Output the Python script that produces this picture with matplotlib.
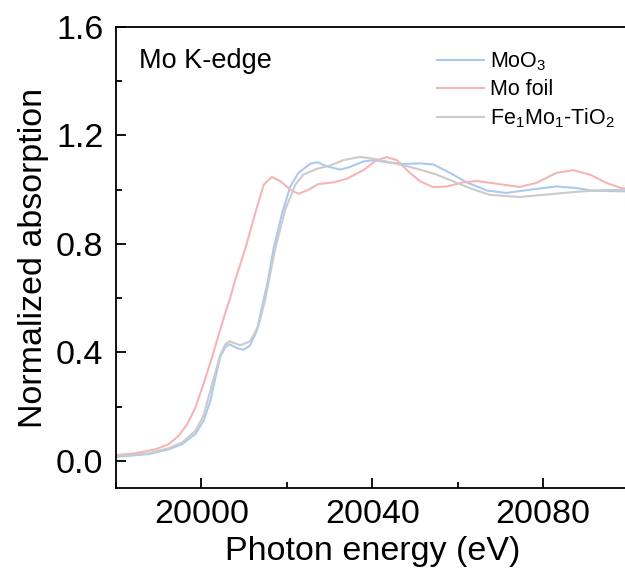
import matplotlib
matplotlib.use("Agg")
import matplotlib.pyplot as plt
from matplotlib.ticker import MultipleLocator, FormatStrFormatter

plt.rcParams['font.family'] = ['Liberation Sans', 'DejaVu Sans']
plt.rcParams['mathtext.fontset'] = 'custom'
plt.rcParams['mathtext.rm'] = 'Liberation Sans'
plt.rcParams['mathtext.it'] = 'Liberation Sans'

# ---- data ----
moo3_x = [19980, 19987.7, 19992.4, 19995.5, 19998.6, 20000.5, 20002.1, 20003.3, 20004.4, 20005.6,
          20006.6, 20008.3, 20009.9, 20011.4, 20013, 20014.2, 20015.6, 20016.9, 20018.9, 20020.8,
          20022.7, 20025.5, 20027.2, 20029.4, 20032.5, 20034.8, 20037.9, 20040.3, 20043.4, 20047.3,
          20051.2, 20054.3, 20058.2, 20062.1, 20066.8, 20071.4, 20076.9, 20083.1, 20087.8, 20091.7,
          20098.7, 20100]
moo3_y = [0.015, 0.025, 0.043, 0.062, 0.099, 0.148, 0.222, 0.309, 0.383, 0.42,
          0.43, 0.416, 0.41, 0.426, 0.481, 0.568, 0.667, 0.784, 0.914, 1.012,
          1.062, 1.096, 1.101, 1.086, 1.074, 1.084, 1.104, 1.109, 1.101, 1.095,
          1.097, 1.093, 1.062, 1.027, 0.997, 0.988, 1.0, 1.012, 1.006, 0.996,
          0.994, 0.994]

foil_x = [19980, 19984.6, 19989.3, 19992.4, 19994.7, 19996.7, 19998.6, 20000.5, 20002.5, 20004.8,
          20006.8, 20007.9, 20010.3, 20012.6, 20014.6, 20016.5, 20018.5, 20020.8, 20022.7, 20025.1,
          20027.4, 20030.9, 20034, 20037.9, 20041, 20043.4, 20045.7, 20048.8, 20051.2, 20054.3,
          20057.4, 20061.3, 20064.4, 20069.1, 20074.5, 20078.4, 20083.1, 20087, 20090.9, 20094.8,
          20098.3, 20100]
foil_y = [0.021, 0.028, 0.043, 0.062, 0.093, 0.136, 0.197, 0.284, 0.383, 0.506,
          0.605, 0.667, 0.784, 0.914, 1.019, 1.047, 1.031, 1.0, 0.985, 1.0,
          1.021, 1.027, 1.04, 1.072, 1.109, 1.12, 1.109, 1.062, 1.031, 1.009,
          1.012, 1.027, 1.032, 1.022, 1.01, 1.025, 1.062, 1.072, 1.056, 1.025,
          1.006, 1.003]

fe_x = [19980, 19987.7, 19992.4, 19995.5, 19998.6, 20000.5, 20002.3, 20004.4, 20005.6, 20006.6,
        20009.1, 20011.4, 20013.4, 20014.9, 20017.3, 20019.6, 20022, 20023.9, 20027, 20030.1,
        20033.2, 20037.1, 20040.3, 20044.2, 20048.8, 20051.2, 20055, 20058.9, 20062.8, 20067.5,
        20074.5, 20080, 20086.2, 20091.7, 20098.7, 20100]
fe_y = [0.018, 0.028, 0.047, 0.068, 0.111, 0.167, 0.272, 0.39, 0.43, 0.441,
        0.426, 0.441, 0.5, 0.593, 0.784, 0.926, 1.019, 1.056, 1.077, 1.089,
        1.109, 1.121, 1.114, 1.101, 1.084, 1.074, 1.056, 1.031, 1.006, 0.981,
        0.973, 0.981, 0.99, 0.997, 1.0, 1.0]

labels = ['MoO$_3$', 'Mo foil', 'Fe$_1$Mo$_1$-TiO$_2$']
colors = ['#abc9f1', '#f5b5b5', '#cbcbcb']

fig = plt.figure(figsize=(6.25, 5.72), dpi=100)
ax = fig.add_axes([0.1856, 0.1469, 0.8202, 0.8059])

ax.plot(moo3_x, moo3_y, color=colors[0], lw=1.5, label=labels[0])
ax.plot(foil_x, foil_y, color=colors[1], lw=1.5, label=labels[1])
ax.plot(fe_x, fe_y, color=colors[2], lw=1.5, label=labels[2])

ax.set_xlim(19980, 20100)
ax.set_ylim(-0.1, 1.6)
ax.xaxis.set_major_locator(MultipleLocator(40))
ax.xaxis.set_minor_locator(MultipleLocator(20))
ax.yaxis.set_major_locator(MultipleLocator(0.4))
ax.yaxis.set_minor_locator(MultipleLocator(0.2))
ax.yaxis.set_major_formatter(FormatStrFormatter('%.1f'))

ax.tick_params(which='major', direction='in', length=7, width=1.3, labelsize=24.5)
ax.tick_params(axis='x', which='major', pad=8)
ax.tick_params(axis='y', which='major', pad=9)
ax.tick_params(which='minor', direction='in', length=4, width=1.3)
for s in ax.spines.values():
    s.set_linewidth(1.3)

ax.set_xlabel('Photon energy (eV)', fontsize=24.5, labelpad=4)
ax.set_ylabel('Normalized absorption', fontsize=24.5, labelpad=5)

ax.text(0.045, 0.955, 'Mo K-edge', transform=ax.transAxes, fontsize=19.5, va='top', ha='left')

leg = ax.legend(loc='upper left', bbox_to_anchor=(0.626, 0.95), frameon=False, fontsize=15.5,
                handlelength=2.2, handletextpad=0.25, labelspacing=0.3, borderaxespad=0.0,
                borderpad=0.0)

fig.savefig('out.png', dpi=100)
